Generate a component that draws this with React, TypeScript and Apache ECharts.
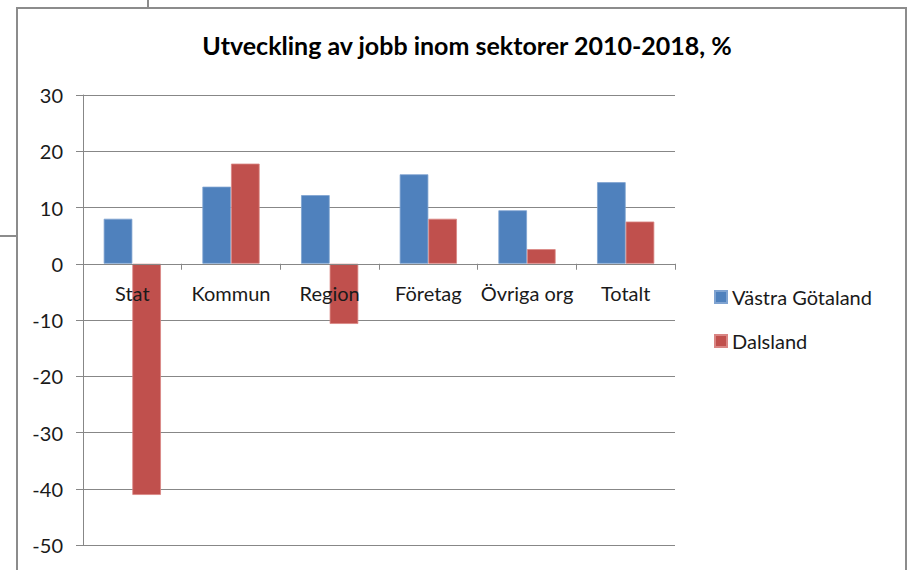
import React, { useEffect, useRef } from "react";
import * as echarts from "echarts";

const categories = ["Stat", "Kommun", "Region", "Företag", "Övriga org", "Totalt"];
const seriesNames = ["Västra Götaland", "Dalsland"];
const vgValues = [8.0, 13.7, 12.2, 15.9, 9.5, 14.5];
const dalValues = [-41.1, 17.8, -10.7, 8.0, 2.6, 7.5];
const title = "Utveckling av jobb inom sektorer 2010-2018, %";
const yMin = -50;
const yMax = 30;
const yStep = 10;

const FONT = "Lato, 'Open Sans', sans-serif";
const GRID_TOP = 95;
const GRID_BOTTOM = 25;
const CHART_H = 570;

export default function App() {
  const ref = useRef<HTMLDivElement>(null);
  useEffect(() => {
    if (!ref.current) return;
    const chart = echarts.init(ref.current, undefined, { renderer: "svg" });
    const plotH = CHART_H - GRID_TOP - GRID_BOTTOM;
    const zeroOffset = -(plotH * (0 - yMin)) / (yMax - yMin);
    chart.setOption({
      animation: false,
      backgroundColor: "#ffffff",
      title: {
        text: title,
        left: 462,
        textAlign: "center",
        top: 27,
        textStyle: { fontFamily: FONT, fontSize: 25, fontWeight: "bold", color: "#000" },
      },
      graphic: [
        { type: "rect", shape: { x: 17, y: 8, width: 889, height: 620 }, style: { fill: "none", stroke: "#8c8c8c", lineWidth: 2 } },
        { type: "line", shape: { x1: 148, y1: 0, x2: 148, y2: 8 }, style: { stroke: "#8c8c8c", lineWidth: 2 } },
        { type: "line", shape: { x1: 0, y1: 236, x2: 17, y2: 236 }, style: { stroke: "#8c8c8c", lineWidth: 2 } },
      ],
      legend: {
        orient: "vertical",
        left: 709,
        top: 282,
        itemWidth: 12,
        itemHeight: 12,
        itemGap: 24,
        icon: "rect",
        textStyle: { fontFamily: FONT, fontSize: 20, color: "#1a1a1a" },
        data: seriesNames,
      },
      grid: { left: 83, right: 234, top: GRID_TOP, bottom: GRID_BOTTOM, containLabel: false, outerBoundsMode: "none" },
      xAxis: {
        type: "category",
        data: categories,
        position: "bottom",
        offset: zeroOffset,
        z: 5,
        axisLine: { onZero: false, lineStyle: { color: "#878787", width: 1 } },
        axisTick: { show: true, length: 6, lineStyle: { color: "#878787" } },
        axisLabel: { fontFamily: FONT, fontSize: 20, color: "#1a1a1a", margin: 19, interval: 0 },
        splitLine: { show: false },
      },
      yAxis: {
        type: "value",
        min: yMin,
        max: yMax,
        interval: yStep,
        axisLine: { show: true, lineStyle: { color: "#878787", width: 1 } },
        axisTick: { show: true, length: 7, inside: false, lineStyle: { color: "#878787" } },
        axisLabel: { fontFamily: FONT, fontSize: 20, color: "#1a1a1a", margin: 20 },
        splitLine: { show: true, lineStyle: { color: "#878787", width: 1 } },
      },
      series: [
        {
          name: seriesNames[0],
          type: "bar",
          data: vgValues,
          barGap: "0%",
          barCategoryGap: "42%",
          itemStyle: { color: "#4F81BD", borderColor: "#7fa3d1", borderWidth: 0.8 },
        },
        {
          name: seriesNames[1],
          type: "bar",
          data: dalValues,
          barGap: "0%",
          barCategoryGap: "42%",
          itemStyle: { color: "#C0504D", borderColor: "#d98583", borderWidth: 0.8 },
        },
      ],
    });
    return () => chart.dispose();
  }, []);
  return (
    <div
      ref={ref}
      style={{ position: "absolute", left: 0, top: 0, width: 909, height: CHART_H }}
    />
  );
}
